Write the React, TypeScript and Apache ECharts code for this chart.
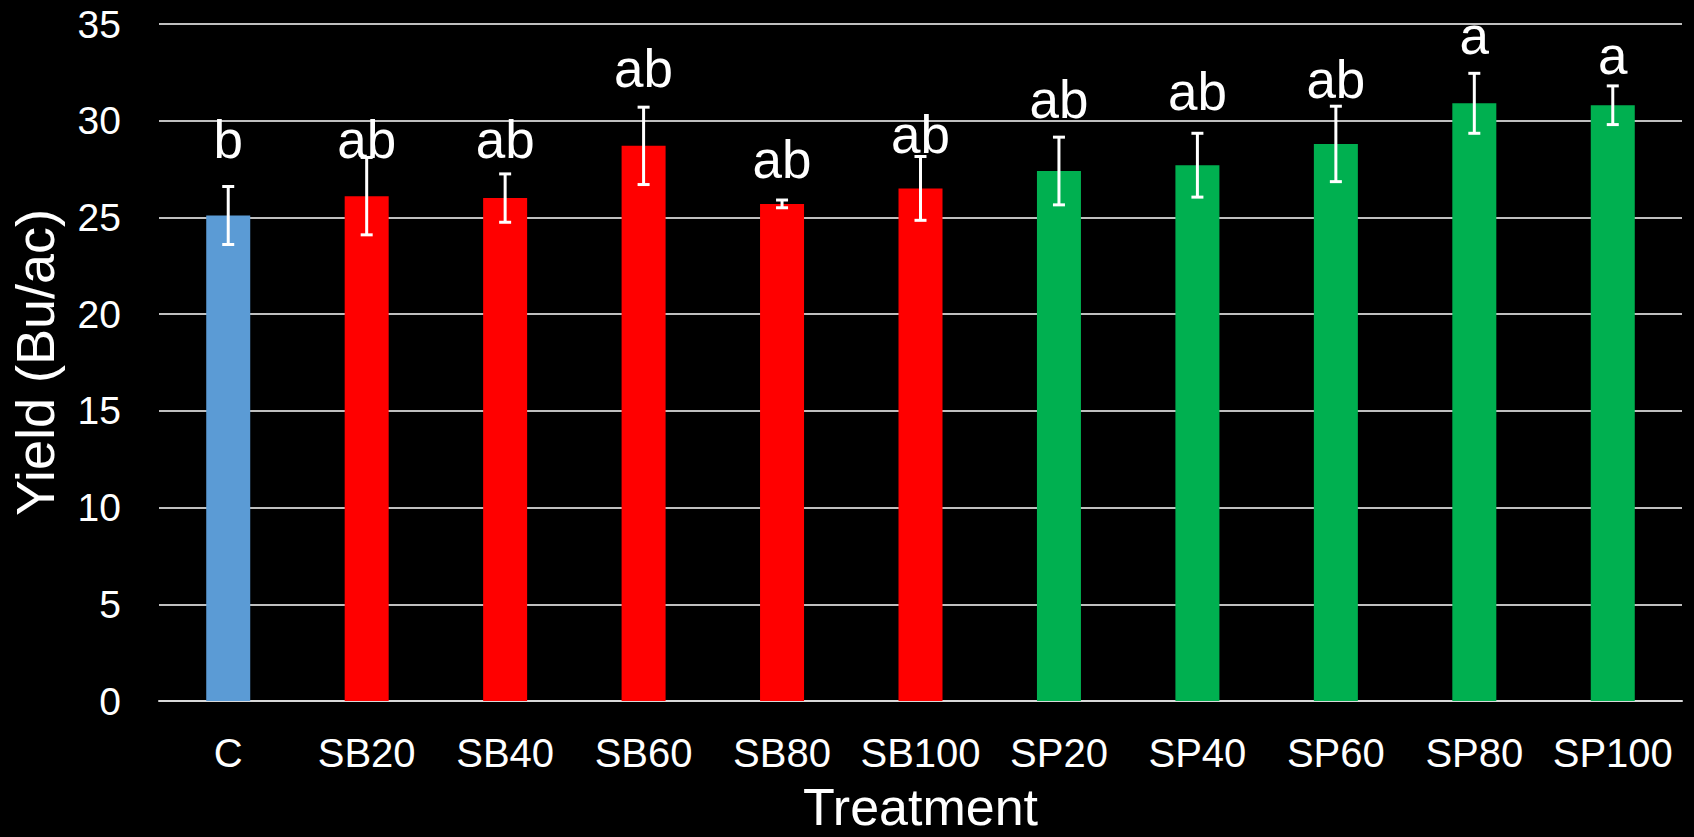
import React, { useEffect, useRef } from "react";
import * as echarts from "echarts";

const categories = ["C", "SB20", "SB40", "SB60", "SB80", "SB100", "SP20", "SP40", "SP60", "SP80", "SP100"];
const yieldValues = [25.1, 26.1, 26.0, 28.7, 25.7, 26.5, 27.4, 27.7, 28.8, 30.9, 30.8];
const errorValues = [1.5, 2.0, 1.25, 2.0, 0.2, 1.65, 1.75, 1.65, 1.95, 1.55, 1.0];
const groupLetters = ["b", "ab", "ab", "ab", "ab", "ab", "ab", "ab", "ab", "a", "a"];
const letterPositions = [28.1, 28.1, 28.1, 31.8, 27.1, 28.4, 30.2, 30.6, 31.25, 33.5, 32.45];
const barColors = ["#5B9BD5", "#FF0000", "#FF0000", "#FF0000", "#FF0000", "#FF0000", "#00B050", "#00B050", "#00B050", "#00B050", "#00B050"];
const yTicks = { min: 0, max: 35, interval: 5 };

const FONT = "'Liberation Sans', Arial, sans-serif";

export default function App() {
  const ref = useRef<HTMLDivElement>(null);
  useEffect(() => {
    document.body.style.margin = "0";
    document.body.style.background = "#000";
    const chart = echarts.init(ref.current!, null, { renderer: "svg" });
    chart.setOption({
      animation: false,
      backgroundColor: "#000000",
      grid: { left: 159, right: 12, top: 24, bottom: 136, outerBoundsMode: "none", containLabel: false },
      xAxis: {
        type: "category",
        data: categories,
        name: "Treatment",
        nameLocation: "middle",
        nameGap: 84,
        nameTextStyle: { color: "#fff", fontSize: 52, lineHeight: 44, fontFamily: FONT },
        axisLine: { show: true, lineStyle: { color: "#D9D9D9", width: 2 } },
        axisTick: { show: false },
        axisLabel: { color: "#fff", fontSize: 40, fontFamily: FONT, margin: 32, interval: 0 },
      },
      yAxis: {
        type: "value",
        min: yTicks.min,
        max: yTicks.max,
        interval: yTicks.interval,
        name: "Yield (Bu/ac)",
        nameLocation: "middle",
        nameGap: 97,
        nameTextStyle: { color: "#fff", fontSize: 54, fontFamily: FONT },
        axisLine: { show: false },
        axisTick: { show: false },
        axisLabel: { color: "#fff", fontSize: 39, fontFamily: FONT, margin: 38 },
        splitLine: { lineStyle: { color: "#BFBFBF", width: 2 } },
      },
      series: [
        {
          type: "bar",
          barWidth: 44,
          data: yieldValues.map((v, i) => ({ value: v, itemStyle: { color: barColors[i] } })),
          z: 2,
        },
        {
          type: "custom",
          z: 5,
          data: yieldValues.map((v, i) => [i, v, errorValues[i]]),
          renderItem: (params: any, api: any) => {
            const i = api.value(0);
            const v = api.value(1);
            const e = api.value(2);
            const top = api.coord([i, v + e]);
            const bot = api.coord([i, v - e]);
            const hw = 6;
            const style = { stroke: "#FFFFFF", lineWidth: 3 };
            return {
              type: "group",
              children: [
                { type: "line", shape: { x1: top[0], y1: top[1], x2: bot[0], y2: bot[1] }, style },
                { type: "line", shape: { x1: top[0] - hw, y1: top[1], x2: top[0] + hw, y2: top[1] }, style },
                { type: "line", shape: { x1: bot[0] - hw, y1: bot[1], x2: bot[0] + hw, y2: bot[1] }, style },
              ],
            };
          },
        },
        {
          type: "custom",
          z: 6,
          data: letterPositions.map((p, i) => [i, p]),
          renderItem: (params: any, api: any) => {
            const i = api.value(0);
            const p = api.value(1);
            const pt = api.coord([i, p]);
            return {
              type: "text",
              x: pt[0],
              y: pt[1] + 9,
              style: {
                text: groupLetters[params.dataIndex],
                fill: "#FFFFFF",
                fontSize: 53,
                fontFamily: FONT,
                align: "center",
                verticalAlign: "bottom",
              },
            };
          },
        },
      ],
    });
    return () => chart.dispose();
  }, []);
  return <div ref={ref} style={{ position: "fixed", left: 0, top: 0, width: 1694, height: 837 }} />;
}
